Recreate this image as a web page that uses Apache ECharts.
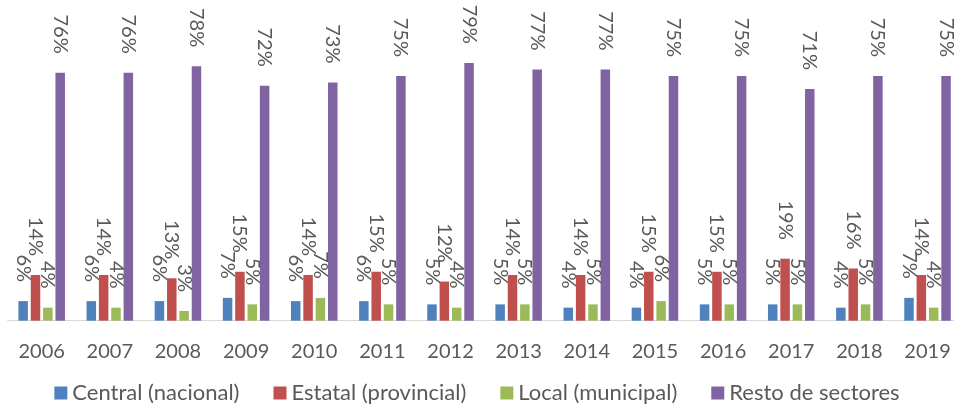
<!DOCTYPE html>
<html>
<head>
<meta charset="utf-8">
<script src="https://cdn.jsdelivr.net/npm/echarts@6/dist/echarts.min.js"></script>
<style>
  html, body { margin: 0; padding: 0; background: #ffffff; }
  #chart { width: 954px; height: 405px; }
</style>
</head>
<body>
<div id="chart"></div>
<script>
// Years on the category axis
const years = ['2006', '2007', '2008', '2009', '2010', '2011', '2012', '2013', '2014', '2015', '2016', '2017', '2018', '2019'];

// Share of each sector (%), one array per series
const central = [6, 6, 6, 7, 6, 6, 5, 5, 4, 4, 5, 5, 4, 7];
const estatal = [14, 14, 13, 15, 14, 15, 12, 14, 14, 15, 15, 19, 16, 14];
const local   = [4, 4, 3, 5, 7, 5, 4, 5, 5, 6, 5, 5, 5, 4];
const resto   = [76, 76, 78, 72, 73, 75, 79, 77, 77, 75, 75, 71, 75, 75];

const seriesNames = ['Central (nacional)', 'Estatal (provincial)', 'Local (municipal)', 'Resto de sectores'];
const seriesColors = ['#4F81BD', '#C0504D', '#9BBB59', '#8064A2'];
const seriesData = [central, estatal, local, resto];

const FONT = 'Lato';
const TEXT = '#595959';

const chart = echarts.init(document.getElementById('chart'), null, { renderer: 'canvas' });

chart.setOption({
  animation: false,
  backgroundColor: '#ffffff',
  textStyle: { fontFamily: FONT },
  grid: {
    left: 7.6,
    right: -7.6,
    top: 27,
    bottom: 84.3,
    outerBoundsMode: 'none'
  },
  legend: {
    data: seriesNames,
    icon: 'rect',
    itemWidth: 13,
    itemHeight: 13,
    itemGap: 34,
    left: 'center',
    top: 377,
    textStyle: { color: TEXT, fontSize: 22, fontFamily: FONT }
  },
  xAxis: {
    type: 'category',
    data: years,
    axisLine: { show: true, lineStyle: { color: '#D9D9D9', width: 1 } },
    axisTick: { show: false },
    axisLabel: { color: TEXT, fontSize: 20, fontFamily: FONT, margin: 21, interval: 0 },
    splitLine: { show: false }
  },
  yAxis: {
    type: 'value',
    min: 0,
    max: 90,
    show: false,
    splitLine: { show: false }
  },
  series: seriesData.map((values, i) => ({
    name: seriesNames[i],
    type: 'bar',
    data: values,
    barWidth: 9.5,
    barGap: '30%',
    itemStyle: { color: seriesColors[i] },
    label: {
      show: true,
      position: 'top',
      distance: 19,
      rotate: -90,
      align: 'right',
      verticalAlign: 'middle',
      formatter: '{c}%',
      color: TEXT,
      fontSize: 20,
      fontFamily: FONT
    }
  }))
});
</script>
</body>
</html>
